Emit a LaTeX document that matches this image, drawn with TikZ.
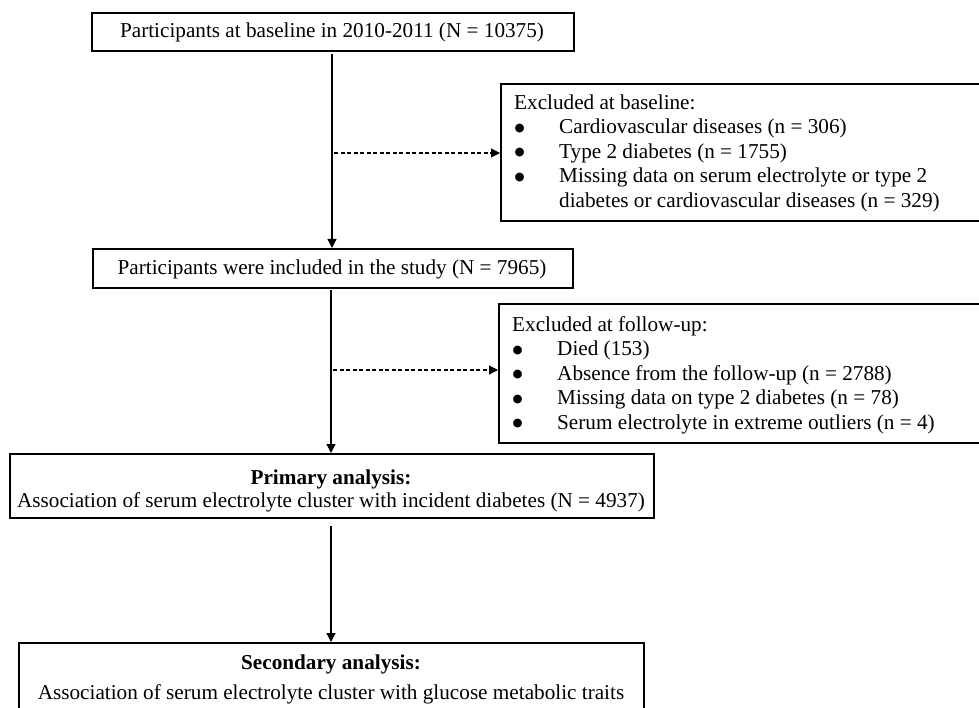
\documentclass[tikz,border=0pt]{standalone}
\usepackage{fontspec}
\setmainfont{Liberation Serif}
\newfontfamily\bulfont{DejaVu Sans}
\usetikzlibrary{arrows.meta}
\newcommand{\blt}{\makebox[45pt][l]{\hspace{0.5pt}\raisebox{2.5pt}{\bulfont\fontsize{11.5}{12}\selectfont ●}}}
\begin{document}
\begin{tikzpicture}[x=1pt,y=-1pt,
  every node/.style={font=\fontsize{21.2}{24.5}\selectfont},
  box/.style={draw, line width=1.6pt, rectangle, inner sep=0pt, anchor=north west},
  ltxt/.style={inner sep=0pt, anchor=north west},
  ctxt/.style={inner sep=0pt, anchor=base},
  flow/.style={line width=1.3pt, -{Triangle[length=9pt,width=9pt]}},
  dflow/.style={line width=1.1pt, dash pattern=on 4pt off 2.5pt, -{Triangle[length=9pt,width=9pt]}}
]
\useasboundingbox (0,0) rectangle (979,708);
\clip (0,0) rectangle (979,708);
% main boxes
\node[box, minimum width=482pt, minimum height=38pt] (b1) at (91,12) {};
\node[ctxt] (b1t) at (332,38) {Participants at baseline in 2010-2011 (N = 10375)};
\node[box, minimum width=480pt, minimum height=39pt] (b2) at (92,248) {};
\node[ctxt] (b2t) at (332,275) {Participants were included in the study (N = 7965)};
\node[box, minimum width=644pt, minimum height=64pt] (b3) at (9,453) {};
\node[ctxt] (b3h) at (331,484) {\textbf{Primary analysis:}};
\node[ctxt] (b3t) at (331,507) {Association of serum electrolyte cluster with incident diabetes (N = 4937)};
\node[box, minimum width=625pt, minimum height=90pt] (b4) at (18,642) {};
\node[ctxt] (b4h) at (331,669) {\textbf{Secondary analysis:}};
\node[ctxt] (b4t) at (331,699) {Association of serum electrolyte cluster with glucose metabolic traits};
% exclusion boxes
\node[box, minimum width=479pt, minimum height=137pt] (ex1) at (500,83) {};
\node[ltxt] (ex1t) at (514,91.9) {\begin{tabular}{@{}l@{}l@{}}
  \multicolumn{2}{@{}l@{}}{Excluded at baseline:}\\
  \blt & Cardiovascular diseases (n = 306)\\
  \blt & Type 2 diabetes (n = 1755)\\
  \blt & Missing data on serum electrolyte or type 2\\
       & diabetes or cardiovascular diseases (n = 329)
  \end{tabular}};
\node[box, minimum width=481pt, minimum height=139pt] (ex2) at (498,303) {};
\node[ltxt] (ex2t) at (512,313.9) {\begin{tabular}{@{}l@{}l@{}}
  \multicolumn{2}{@{}l@{}}{Excluded at follow-up:}\\
  \blt & Died (153)\\
  \blt & Absence from the follow-up (n = 2788)\\
  \blt & Missing data on type 2 diabetes (n = 78)\\
  \blt & Serum electrolyte in extreme outliers (n = 4)
  \end{tabular}};
% connectors
\coordinate (s1) at (332,54);
\coordinate (s2) at (331,290);
\coordinate (s3) at (331,526);
\draw[flow] (s1) -- (s1 |- b2.north);
\draw[flow] (s2) -- (s2 |- b3.north);
\draw[flow] (s3) -- (s3 |- b4.north);
\coordinate (d1) at (334,153);
\coordinate (d2) at (333,370);
\draw[dflow] (d1) -- (d1 -| ex1.west);
\draw[dflow] (d2) -- (d2 -| ex2.west);
\end{tikzpicture}
\end{document}
